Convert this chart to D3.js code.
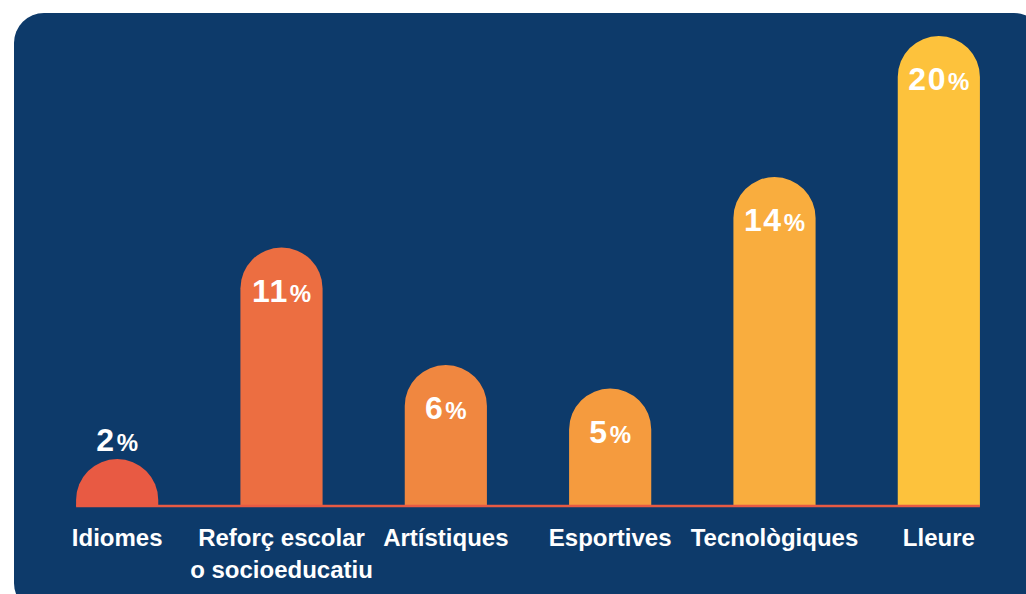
<!DOCTYPE html>
<html>
<head>
<meta charset="utf-8">
<script src="https://cdn.jsdelivr.net/npm/d3@7"></script>
<style>
  body { margin: 0; background: #fff; }
  text { font-family: "Liberation Sans", Arial, sans-serif; font-weight: bold; fill: #fff; }
</style>
</head>
<body>
<script>
// data
var categories = ["Idiomes", "Reforç escolar\no socioeducatiu", "Artístiques", "Esportives", "Tecnològiques", "Lleure"];
var values = [2, 11, 6, 5, 14, 20];
var colors = ["#e85a43", "#ec6e41", "#f08740", "#f59b3e", "#f9ad3e", "#fdc23c"];

var svgWidth = 1026;
var svgHeight = 594;

var svg = d3.select("body").append("svg")
  .attr("width", svgWidth)
  .attr("height", svgHeight);

// dark panel
svg.append("rect")
  .attr("x", 14).attr("y", 13)
  .attr("width", 1030).attr("height", 600)
  .attr("rx", 30)
  .attr("fill", "#0d3a6a");

var xScale = d3.scaleBand()
  .domain(categories)
  .range([35, 1021])
  .paddingInner(0.5)
  .paddingOuter(0.25);

var yScale = d3.scaleLinear()
  .domain([0, 20])
  .range([506, 36]);

var bw = xScale.bandwidth();
var r = bw / 2;

function barPath(d, i) {
  var x0 = xScale(categories[i]);
  var yb = yScale(0);
  var yt = yScale(d);
  return "M" + x0 + "," + yb +
    "L" + x0 + "," + (yt + r) +
    "A" + r + "," + r + " 0 0 1 " + (x0 + bw) + "," + (yt + r) +
    "L" + (x0 + bw) + "," + yb + "Z";
}

var g = svg.append("g");

g.selectAll("path.bar")
  .data(values)
  .enter()
  .append("path")
  .attr("class", "bar")
  .attr("d", barPath)
  .attr("fill", (d, i) => colors[i]);

// baseline
g.append("line")
  .attr("x1", xScale(categories[0]))
  .attr("x2", xScale(categories[categories.length - 1]) + bw)
  .attr("y1", yScale(0)).attr("y2", yScale(0))
  .attr("stroke", "#e85a43")
  .attr("stroke-width", 2.5);

// value labels
var vl = g.selectAll("text.val")
  .data(values)
  .enter()
  .append("text")
  .attr("class", "val")
  .attr("text-anchor", "middle")
  .attr("x", (d, i) => xScale(categories[i]) + r)
  .attr("y", d => (yScale(0) - yScale(d) > 60) ? yScale(d) + 54 : yScale(d) - 8);

vl.append("tspan")
  .attr("font-size", 32)
  .attr("letter-spacing", 1.5)
  .text(d => d);
vl.append("tspan")
  .attr("font-size", 24)
  .attr("font-weight", 600)
  .attr("dx", 1)
  .text("%");

// category labels
var cl = g.selectAll("text.cat")
  .data(categories)
  .enter()
  .append("text")
  .attr("class", "cat")
  .attr("text-anchor", "middle")
  .attr("font-size", 24)
  .attr("x", d => xScale(d) + r)
  .attr("y", 546);

cl.selectAll("tspan")
  .data(d => d.split("\n"))
  .enter()
  .append("tspan")
  .attr("x", function() { return d3.select(this.parentNode).attr("x"); })
  .attr("dy", (d, i) => i === 0 ? 0 : 32)
  .text(d => d);
</script>
</body>
</html>
